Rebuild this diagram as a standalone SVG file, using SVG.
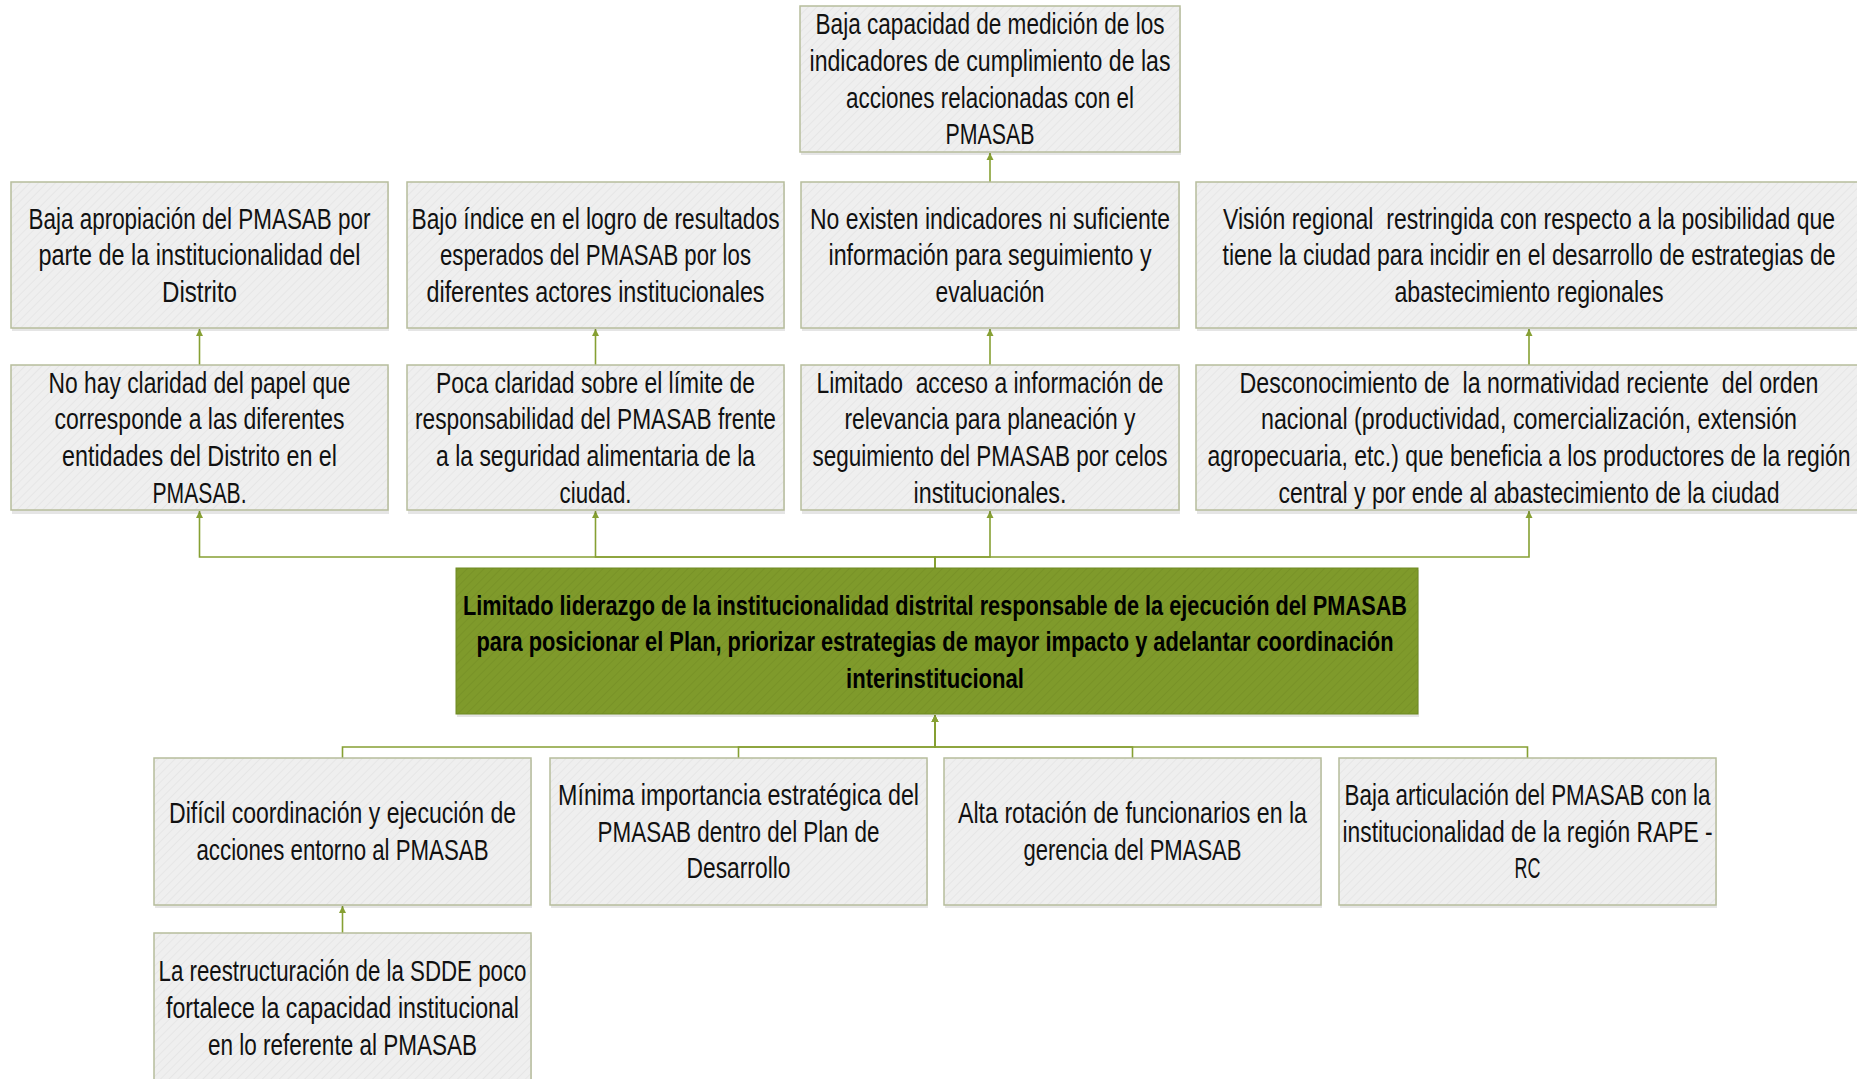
<svg xmlns="http://www.w3.org/2000/svg" width="1857" height="1079" viewBox="0 0 1857 1079">
<style>
.box{fill:url(#hatch);stroke:#b7bd9c;stroke-width:1.5}
.shadow{fill:#000;opacity:0.10}
.main{fill:url(#hatchG);stroke:#6f8a22;stroke-width:1}
.t{font-family:"Liberation Sans",Arial,sans-serif;font-size:29px;fill:#111;text-anchor:middle}
.tb{font-family:"Liberation Sans",Arial,sans-serif;font-size:28px;font-weight:bold;fill:#000;text-anchor:middle}
.c{fill:none;stroke:#86a033;stroke-width:1.6}
</style>
<defs>
<pattern id="hatch" width="6" height="6" patternUnits="userSpaceOnUse" patternTransform="rotate(45)">
<rect width="6" height="6" fill="#efefef"/>
<line x1="0" y1="0" x2="0" y2="6" stroke="#e6e6e6" stroke-width="2"/>
</pattern>
<pattern id="hatchG" width="6" height="6" patternUnits="userSpaceOnUse" patternTransform="rotate(45)">
<rect width="6" height="6" fill="#7f9a2b"/>
<line x1="0" y1="0" x2="0" y2="6" stroke="#789227" stroke-width="2"/>
</pattern>
<marker id="arr" markerWidth="8" markerHeight="8" refX="7" refY="4" orient="auto" markerUnits="userSpaceOnUse">
<path d="M0,0.5 L7,4 L0,7.5 Z" fill="#86a033"/>
</marker>
</defs>
<rect width="1857" height="1079" fill="#ffffff"/>

<g id="connectors">
<path class="c" d="M990 182 V153" marker-end="url(#arr)"/>
<path class="c" d="M199.5 365 V329" marker-end="url(#arr)"/>
<path class="c" d="M595.5 365 V329" marker-end="url(#arr)"/>
<path class="c" d="M990 365 V329" marker-end="url(#arr)"/>
<path class="c" d="M1529 365 V329" marker-end="url(#arr)"/>
<path class="c" d="M935 568 V557 H199.5 V511" marker-end="url(#arr)"/>
<path class="c" d="M935 568 V557 H595.5 V511" marker-end="url(#arr)"/>
<path class="c" d="M935 568 V557 H990 V511" marker-end="url(#arr)"/>
<path class="c" d="M935 568 V557 H1529 V511" marker-end="url(#arr)"/>
<path class="c" d="M342.5 758 V747 H935 V715" marker-end="url(#arr)"/>
<path class="c" d="M738.5 758 V747 H935 V715" marker-end="url(#arr)"/>
<path class="c" d="M1132.5 758 V747 H935 V715" marker-end="url(#arr)"/>
<path class="c" d="M1527.5 758 V747 H935 V715" marker-end="url(#arr)"/>
<path class="c" d="M342.5 933 V906" marker-end="url(#arr)"/>
</g>

<g id="n-top">
<rect class="shadow" x="801" y="8" width="380" height="147"/>
<rect class="box" x="800" y="6" width="380" height="146"/>
<text class="t" transform="matrix(0.78 0 0 1 990 0)" y="34.3" textLength="447.4" lengthAdjust="spacingAndGlyphs">Baja capacidad de medición de los</text>
<text class="t" transform="matrix(0.78 0 0 1 990 0)" y="71" textLength="462.8" lengthAdjust="spacingAndGlyphs">indicadores de cumplimiento de las</text>
<text class="t" transform="matrix(0.78 0 0 1 990 0)" y="107.6" textLength="369.2" lengthAdjust="spacingAndGlyphs">acciones relacionadas con el</text>
<text class="t" transform="matrix(0.78 0 0 1 990 0)" y="144.3" textLength="114.1" lengthAdjust="spacingAndGlyphs">PMASAB</text>
</g>

<g id="n-r2-1">
<rect class="shadow" x="12" y="184" width="377" height="147"/>
<rect class="box" x="11" y="182" width="377" height="146"/>
<text class="t" transform="matrix(0.78 0 0 1 199.5 0)" y="228.6" textLength="438.5" lengthAdjust="spacingAndGlyphs">Baja apropiación del PMASAB por</text>
<text class="t" transform="matrix(0.78 0 0 1 199.5 0)" y="265.3" textLength="412.8" lengthAdjust="spacingAndGlyphs">parte de la institucionalidad del</text>
<text class="t" transform="matrix(0.78 0 0 1 199.5 0)" y="302" textLength="96.2" lengthAdjust="spacingAndGlyphs">Distrito</text>
</g>

<g id="n-r2-2">
<rect class="shadow" x="408" y="184" width="377" height="147"/>
<rect class="box" x="407" y="182" width="377" height="146"/>
<text class="t" transform="matrix(0.78 0 0 1 595.5 0)" y="228.6" textLength="471.8" lengthAdjust="spacingAndGlyphs">Bajo índice en el logro de resultados</text>
<text class="t" transform="matrix(0.78 0 0 1 595.5 0)" y="265.3" textLength="398.7" lengthAdjust="spacingAndGlyphs">esperados del PMASAB por los</text>
<text class="t" transform="matrix(0.78 0 0 1 595.5 0)" y="302" textLength="433.3" lengthAdjust="spacingAndGlyphs">diferentes actores institucionales</text>
</g>

<g id="n-r2-3">
<rect class="shadow" x="802" y="184" width="378" height="147"/>
<rect class="box" x="801" y="182" width="378" height="146"/>
<text class="t" transform="matrix(0.78 0 0 1 990 0)" y="228.6" textLength="461.5" lengthAdjust="spacingAndGlyphs">No existen indicadores ni suficiente</text>
<text class="t" transform="matrix(0.78 0 0 1 990 0)" y="265.3" textLength="414.1" lengthAdjust="spacingAndGlyphs">información para seguimiento y</text>
<text class="t" transform="matrix(0.78 0 0 1 990 0)" y="302" textLength="139.7" lengthAdjust="spacingAndGlyphs">evaluación</text>
</g>

<g id="n-r2-4">
<rect class="shadow" x="1197" y="184" width="666" height="147"/>
<rect class="box" x="1196" y="182" width="666" height="146"/>
<text class="t" transform="matrix(0.78 0 0 1 1529 0)" y="228.6" textLength="784.6" lengthAdjust="spacingAndGlyphs" xml:space="preserve">Visión regional  restringida con respecto a la posibilidad que</text>
<text class="t" transform="matrix(0.78 0 0 1 1529 0)" y="265.3" textLength="785.9" lengthAdjust="spacingAndGlyphs">tiene la ciudad para incidir en el desarrollo de estrategias de</text>
<text class="t" transform="matrix(0.78 0 0 1 1529 0)" y="302" textLength="344.9" lengthAdjust="spacingAndGlyphs">abastecimiento regionales</text>
</g>

<g id="n-r3-1">
<rect class="shadow" x="12" y="367" width="377" height="147"/>
<rect class="box" x="11" y="365" width="377" height="145"/>
<text class="t" transform="matrix(0.78 0 0 1 199.5 0)" y="392.8" textLength="387.2" lengthAdjust="spacingAndGlyphs">No hay claridad del papel que</text>
<text class="t" transform="matrix(0.78 0 0 1 199.5 0)" y="429.5" textLength="371.8" lengthAdjust="spacingAndGlyphs">corresponde a las diferentes</text>
<text class="t" transform="matrix(0.78 0 0 1 199.5 0)" y="466.1" textLength="352.6" lengthAdjust="spacingAndGlyphs">entidades del Distrito en el</text>
<text class="t" transform="matrix(0.78 0 0 1 199.5 0)" y="502.8" textLength="120.5" lengthAdjust="spacingAndGlyphs">PMASAB.</text>
</g>

<g id="n-r3-2">
<rect class="shadow" x="408" y="367" width="377" height="147"/>
<rect class="box" x="407" y="365" width="377" height="145"/>
<text class="t" transform="matrix(0.78 0 0 1 595.5 0)" y="392.8" textLength="409" lengthAdjust="spacingAndGlyphs">Poca claridad sobre el límite de</text>
<text class="t" transform="matrix(0.78 0 0 1 595.5 0)" y="429.5" textLength="462.8" lengthAdjust="spacingAndGlyphs">responsabilidad del PMASAB frente</text>
<text class="t" transform="matrix(0.78 0 0 1 595.5 0)" y="466.1" textLength="409" lengthAdjust="spacingAndGlyphs">a la seguridad alimentaria de la</text>
<text class="t" transform="matrix(0.78 0 0 1 595.5 0)" y="502.8" textLength="92.3" lengthAdjust="spacingAndGlyphs">ciudad.</text>
</g>

<g id="n-r3-3">
<rect class="shadow" x="802" y="367" width="378" height="147"/>
<rect class="box" x="801" y="365" width="378" height="145"/>
<text class="t" transform="matrix(0.78 0 0 1 990 0)" y="392.8" textLength="444.9" lengthAdjust="spacingAndGlyphs" xml:space="preserve">Limitado  acceso a información de</text>
<text class="t" transform="matrix(0.78 0 0 1 990 0)" y="429.5" textLength="373.1" lengthAdjust="spacingAndGlyphs">relevancia para planeación y</text>
<text class="t" transform="matrix(0.78 0 0 1 990 0)" y="466.1" textLength="455.1" lengthAdjust="spacingAndGlyphs">seguimiento del PMASAB por celos</text>
<text class="t" transform="matrix(0.78 0 0 1 990 0)" y="502.8" textLength="196.2" lengthAdjust="spacingAndGlyphs">institucionales.</text>
</g>

<g id="n-r3-4">
<rect class="shadow" x="1197" y="367" width="666" height="147"/>
<rect class="box" x="1196" y="365" width="666" height="145"/>
<text class="t" transform="matrix(0.78 0 0 1 1529 0)" y="392.8" textLength="742.3" lengthAdjust="spacingAndGlyphs" xml:space="preserve">Desconocimiento de  la normatividad reciente  del orden</text>
<text class="t" transform="matrix(0.78 0 0 1 1529 0)" y="429.5" textLength="687.2" lengthAdjust="spacingAndGlyphs">nacional (productividad, comercialización, extensión</text>
<text class="t" transform="matrix(0.78 0 0 1 1529 0)" y="466.1" textLength="824.4" lengthAdjust="spacingAndGlyphs">agropecuaria, etc.) que beneficia a los productores de la región</text>
<text class="t" transform="matrix(0.78 0 0 1 1529 0)" y="502.8" textLength="642.3" lengthAdjust="spacingAndGlyphs">central y por ende al abastecimiento de la ciudad</text>
</g>

<g id="n-center">
<rect class="shadow" x="457" y="570" width="962" height="147"/>
<rect class="main" x="456" y="568" width="962" height="146"/>
<text class="tb" transform="matrix(0.74 0 0 1 935 0)" y="614.6" textLength="1275.7" lengthAdjust="spacingAndGlyphs">Limitado liderazgo de la institucionalidad distrital responsable de la ejecución del PMASAB</text>
<text class="tb" transform="matrix(0.74 0 0 1 935 0)" y="651.3" textLength="1239.2" lengthAdjust="spacingAndGlyphs">para posicionar el Plan, priorizar estrategias de mayor impacto y adelantar coordinación</text>
<text class="tb" transform="matrix(0.74 0 0 1 935 0)" y="688" textLength="240.5" lengthAdjust="spacingAndGlyphs">interinstitucional</text>
</g>

<g id="n-b1">
<rect class="shadow" x="155" y="760" width="377" height="148"/>
<rect class="box" x="154" y="758" width="377" height="147"/>
<text class="t" transform="matrix(0.78 0 0 1 342.5 0)" y="823.5" textLength="444.9" lengthAdjust="spacingAndGlyphs">Difícil coordinación y ejecución de</text>
<text class="t" transform="matrix(0.78 0 0 1 342.5 0)" y="860.1" textLength="374.4" lengthAdjust="spacingAndGlyphs">acciones entorno al PMASAB</text>
</g>

<g id="n-b2">
<rect class="shadow" x="551" y="760" width="377" height="148"/>
<rect class="box" x="550" y="758" width="377" height="147"/>
<text class="t" transform="matrix(0.78 0 0 1 738.5 0)" y="805.2" textLength="462.8" lengthAdjust="spacingAndGlyphs">Mínima importancia estratégica del</text>
<text class="t" transform="matrix(0.78 0 0 1 738.5 0)" y="841.8" textLength="361.5" lengthAdjust="spacingAndGlyphs">PMASAB dentro del Plan de</text>
<text class="t" transform="matrix(0.78 0 0 1 738.5 0)" y="878.5" textLength="133.3" lengthAdjust="spacingAndGlyphs">Desarrollo</text>
</g>

<g id="n-b3">
<rect class="shadow" x="945" y="760" width="377" height="148"/>
<rect class="box" x="944" y="758" width="377" height="147"/>
<text class="t" transform="matrix(0.78 0 0 1 1132.5 0)" y="823.5" textLength="447.4" lengthAdjust="spacingAndGlyphs">Alta rotación de funcionarios en la</text>
<text class="t" transform="matrix(0.78 0 0 1 1132.5 0)" y="860.1" textLength="279.5" lengthAdjust="spacingAndGlyphs">gerencia del PMASAB</text>
</g>

<g id="n-b4">
<rect class="shadow" x="1340" y="760" width="377" height="148"/>
<rect class="box" x="1339" y="758" width="377" height="147"/>
<text class="t" transform="matrix(0.78 0 0 1 1527.5 0)" y="805.2" textLength="469.2" lengthAdjust="spacingAndGlyphs">Baja articulación del PMASAB con la</text>
<text class="t" transform="matrix(0.78 0 0 1 1527.5 0)" y="841.8" textLength="474.4" lengthAdjust="spacingAndGlyphs">institucionalidad de la región RAPE -</text>
<text class="t" transform="matrix(0.78 0 0 1 1527.5 0)" y="878.5" textLength="33.3" lengthAdjust="spacingAndGlyphs">RC</text>
</g>

<g id="n-last">
<rect class="shadow" x="155" y="935" width="377" height="147"/>
<rect class="box" x="154" y="933" width="377" height="147"/>
<text class="t" transform="matrix(0.78 0 0 1 342.5 0)" y="981.3" textLength="471.8" lengthAdjust="spacingAndGlyphs">La reestructuración de la SDDE poco</text>
<text class="t" transform="matrix(0.78 0 0 1 342.5 0)" y="1018" textLength="452.6" lengthAdjust="spacingAndGlyphs">fortalece la capacidad institucional</text>
<text class="t" transform="matrix(0.78 0 0 1 342.5 0)" y="1054.7" textLength="344.9" lengthAdjust="spacingAndGlyphs">en lo referente al PMASAB</text>
</g>
</svg>
